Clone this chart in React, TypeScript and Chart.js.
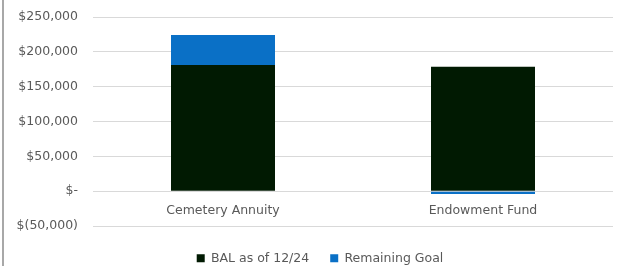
import React, { useEffect, useRef } from "react";
import { Chart, registerables } from "chart.js";

Chart.register(...registerables);

const categories = ["Cemetery Annuity", "Endowment Fund"];
const balValues = [181000, 178500];
const remainingValues = [43000, -4000];
const seriesNames = ["BAL as of 12/24", "Remaining Goal"];

const fmt = (v: number) => {
  if (v === 0) return "$-";
  const s = Math.abs(v).toLocaleString("en-US");
  return v < 0 ? `$(${s})` : `$${s}`;
};

const FONT = "'DejaVu Sans', sans-serif";

const legendShift = {
  id: "legendShift",
  afterLayout(chart: any) {
    const lg = chart.legend;
    if (lg) {
      lg.left += 13.5;
      lg.right += 13.5;
    }
  },
};

export default function App() {
  const ref = useRef<HTMLCanvasElement>(null);
  useEffect(() => {
    document.body.style.margin = "0";
    const chart = new Chart(ref.current!, {
      type: "bar",
      data: {
        labels: categories,
        datasets: [
          { label: seriesNames[0], data: balValues, backgroundColor: "#011a02", categoryPercentage: 1, barPercentage: 0.4 },
          { label: seriesNames[1], data: remainingValues, backgroundColor: "#0a70c6", categoryPercentage: 1, barPercentage: 0.4 },
        ],
      },
      plugins: [legendShift],
      options: {
        animation: false,
        responsive: false,
        maintainAspectRatio: false,
        layout: { padding: { top: 17, right: 10, bottom: -8.5, left: 0 } },
        plugins: {
          tooltip: { enabled: false },
          legend: {
            position: "bottom",
            title: { display: true, text: " ", padding: 0, font: { size: 5, lineHeight: 1 } },
            labels: {
              boxWidth: 8,
              boxHeight: 8,
              padding: 21,
              color: "#595959",
              font: { family: FONT, size: 12.5 },
            },
          },
        },
        scales: {
          x: {
            stacked: true,
            position: { y: 0 } as any,
            grid: { display: false, drawTicks: false },
            border: { display: false },
            ticks: { color: "#595959", font: { family: FONT, size: 12.5 }, padding: 12 },
          },
          y: {
            stacked: true,
            min: -50000,
            max: 250000,
            afterFit: (s: any) => {
              s.width = 93;
              s.paddingTop = 0;
              s.paddingBottom = 0;
            },
            grid: { color: "#d9d9d9", drawTicks: false, lineWidth: 1 },
            border: { display: false },
            ticks: {
              stepSize: 50000,
              padding: 15,
              color: "#595959",
              font: { family: FONT, size: 12.5 },
              callback: (v: any) => fmt(Number(v)),
            },
          },
        },
      },
    });
    return () => chart.destroy();
  }, []);
  return (
    <div style={{ position: "relative", width: 623, height: 266, background: "#fff" }}>
      <canvas ref={ref} width={623} height={266} style={{ display: "block" }} />
      <div style={{ position: "absolute", left: 2, top: 0, width: 2, height: 266, background: "#a8a8a8" }} />
    </div>
  );
}
